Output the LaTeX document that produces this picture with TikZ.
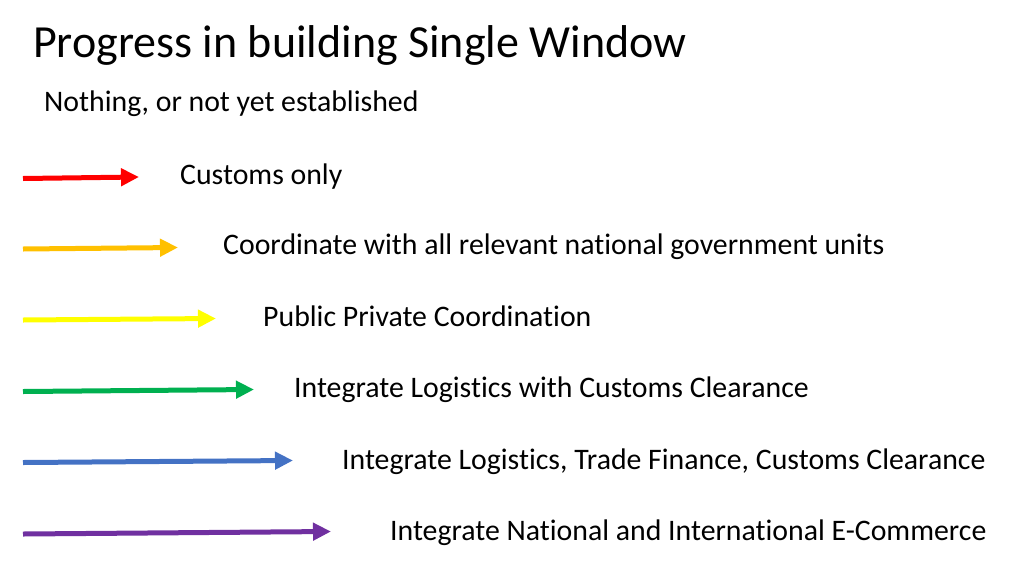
\documentclass[tikz,border=0pt]{standalone}
\usepackage{fontspec}
\setmainfont{Carlito}[Ligatures={NoCommon}]
\usetikzlibrary{arrows.meta}

\definecolor{stepred}{HTML}{FF0000}
\definecolor{steporange}{HTML}{FFC000}
\definecolor{stepyellow}{HTML}{FFFF00}
\definecolor{stepgreen}{HTML}{00B050}
\definecolor{stepblue}{HTML}{4472C4}
\definecolor{steppurple}{HTML}{7030A0}

\tikzset{
	stagearrow/.style={line width=5pt, -{Triangle[length=18pt,width=17pt]}},
	stagelabel/.style={anchor=base west, inner sep=0pt, font=\fontsize{29.8}{34}\selectfont}
}

\begin{document}
\begin{tikzpicture}[x=1pt, y=-1pt]
		\useasboundingbox (0,0) rectangle (1024,576);
		
		% Title
		\node[anchor=base west, inner sep=0pt, font=\fontsize{46}{52}\selectfont] (title) at (33, 57) {Progress in building Single Window};
		\node[stagelabel] (none) at (44, 111) {Nothing, or not yet established};
		
		% Arrow end points
		\coordinate (s1) at (23, 178.5);
		\coordinate (e1) at (139, 177);
		\coordinate (s2) at (23, 249);
		\coordinate (e2) at (178, 247.5);
		\coordinate (s3) at (23, 320);
		\coordinate (e3) at (216, 318.5);
		\coordinate (s4) at (23, 391.5);
		\coordinate (e4) at (254, 389.5);
		\coordinate (s5) at (23, 462.5);
		\coordinate (e5) at (293, 460.5);
		\coordinate (s6) at (23, 534);
		\coordinate (e6) at (331, 531.5);
		
		% Arrows
		\draw[stagearrow, stepred] (s1) -- (e1);
		\draw[stagearrow, steporange] (s2) -- (e2);
		\draw[stagearrow, stepyellow] (s3) -- (e3);
		\draw[stagearrow, stepgreen] (s4) -- (e4);
		\draw[stagearrow, stepblue] (s5) -- (e5);
		\draw[stagearrow, steppurple] (s6) -- (e6);
		
		% Labels
		\node[stagelabel] (customs) at (180, 184) {Customs only};
		\node[stagelabel] (govt) at (223, 254.5) {Coordinate with all relevant national government units};
		\node[stagelabel] (public) at (263, 326) {Public Private Coordination};
		\node[stagelabel] (logistics) at (294, 397.5) {Integrate Logistics with Customs Clearance};
		\node[stagelabel] (finance) at (342, 469) {Integrate Logistics, Trade Finance, Customs Clearance};
		\node[stagelabel] (ecommerce) at (390, 540.5) {Integrate National and International E-Commerce};
		
	\end{tikzpicture}
\end{document}
